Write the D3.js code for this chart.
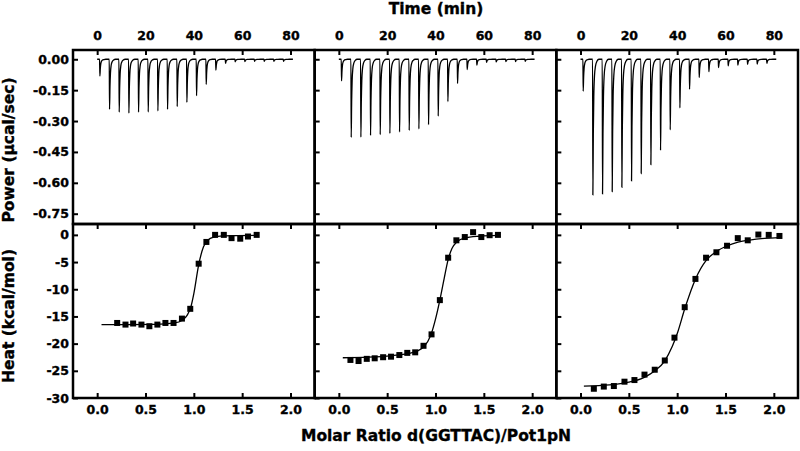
<!DOCTYPE html>
<html>
<head>
<meta charset="utf-8">
<script src="https://cdn.jsdelivr.net/npm/d3@7"></script>
<style>
  html, body { margin: 0; padding: 0; background: #fff; }
  svg { display: block; }
  text { font-family: "DejaVu Sans", sans-serif; font-weight: bold; fill: #000; stroke: #000; stroke-width: 0.35px; }
</style>
</head>
<body>
<svg id="chart" width="800" height="451"></svg>
<script>
// ---------------- data ----------------
const injectionTimes = [1, 5, 9, 13, 17, 21, 25, 29, 33, 37, 41, 45, 49, 53, 57, 61, 65, 69, 73, 77];
const peaks1 = [-0.081, -0.243, -0.257, -0.262, -0.257, -0.256, -0.251, -0.243, -0.23, -0.209, -0.177, -0.122, -0.053, -0.02, -0.012, -0.011, -0.01, -0.01, -0.01, -0.01];
const peaks2 = [-0.105, -0.379, -0.378, -0.37, -0.366, -0.36, -0.353, -0.345, -0.338, -0.317, -0.276, -0.205, -0.117, -0.05, -0.028, -0.015, -0.013, -0.011, -0.011, -0.01];
const peaks3 = [-0.155, -0.659, -0.654, -0.643, -0.622, -0.591, -0.555, -0.512, -0.442, -0.343, -0.236, -0.145, -0.088, -0.06, -0.04, -0.032, -0.028, -0.025, -0.024, -0.02];
// spike shape: [minutes after injection, fraction of peak]
const spikeProfile = [[0, 0], [0.12, 1], [0.3, 0.55], [0.5, 0.28], [0.8, 0.12], [1.2, 0.05], [1.8, 0.015], [2.6, 0]];
const traceStart = 0, traceEnd = 81;

const ratio1 = [0.207, 0.293, 0.372, 0.458, 0.54, 0.623, 0.706, 0.79, 0.877, 0.963, 1.05, 1.13, 1.22, 1.31, 1.39, 1.48, 1.56, 1.65];
const heat1  = [-16.2, -16.5, -16.3, -16.5, -16.8, -16.5, -16.2, -16.2, -15.4, -13.6, -5.3, -1.3, 0, 0, -0.6, -0.7, -0.3, 0];
const ratio2 = [0.12, 0.204, 0.289, 0.371, 0.458, 0.54, 0.626, 0.708, 0.79, 0.876, 0.959, 1.045, 1.131, 1.216, 1.303, 1.389, 1.474, 1.56, 1.646];
const heat2  = [-23.0, -23.2, -22.8, -22.7, -22.5, -22.4, -22.1, -21.7, -21.6, -20.4, -18.3, -12.0, -4.2, -1.0, -0.4, 0.5, -0.4, -0.06, 0];
const ratio3 = [0.138, 0.241, 0.345, 0.455, 0.558, 0.662, 0.768, 0.872, 0.972, 1.078, 1.189, 1.299, 1.406, 1.516, 1.627, 1.73, 1.84, 1.947, 2.058];
const heat3  = [-28.3, -27.9, -27.8, -27.0, -26.7, -25.7, -24.8, -23.1, -18.9, -13.3, -8.1, -4.2, -3.2, -2.0, -0.6, -1.0, 0.06, 0, -0.2];

const fit1 = [[0.045, -16.5], [0.3, -16.5], [0.6, -16.45], [0.8, -16.2], [0.88, -15.7], [0.93, -14.8], [0.97, -13.2], [1.0, -10.8], [1.05, -5.5], [1.1, -2.2], [1.15, -0.9], [1.2, -0.45], [1.3, -0.2], [1.66, -0.1]];
const fit2 = [[0.041, -22.6], [0.3, -22.5], [0.55, -22.2], [0.75, -21.7], [0.85, -21.0], [0.92, -19.6], [0.96, -18.0], [1.0, -15.5], [1.045, -12.0], [1.09, -8.0], [1.13, -4.6], [1.17, -2.5], [1.22, -1.3], [1.3, -0.6], [1.45, -0.25], [1.65, -0.1]];
const fit3 = [[0.035, -27.8], [0.3, -27.6], [0.5, -27.1], [0.66, -26.2], [0.77, -25.0], [0.87, -23.2], [0.95, -20.5], [1.0, -18.2], [1.08, -13.5], [1.19, -8.1], [1.3, -4.7], [1.41, -3.0], [1.52, -2.0], [1.63, -1.35], [1.75, -0.95], [1.9, -0.65], [2.06, -0.5]];

const timeTicks = [0, 20, 40, 60, 80];
const powerTicks = [0, -0.15, -0.3, -0.45, -0.6, -0.75];
const ratioTicks = [0, 0.5, 1.0, 1.5, 2.0];
const heatTicks = [0, -5, -10, -15, -20, -25, -30];

const titleTop = "Time (min)";
const titleBottom = "Molar Ratio d(GGTTAC)/Pot1pN";
const titlePower = "Power (µcal/sec)";
const titleHeat = "Heat (kcal/mol)";

// ---------------- layout ----------------
const padL = 73, padR = 798, yTop = 50, yMid = 224, yBot = 398;
const pw = (padR - padL) / 3;
const svg = d3.select("#chart");

const yPower = d3.scaleLinear().domain([-0.8, 0.045]).range([yMid, yTop]);
const yHeat = d3.scaleLinear().domain([-30, 2]).range([yBot, yMid]);

const panels = [
  {peaks: peaks1, ratio: ratio1, heat: heat1, fit: fit1},
  {peaks: peaks2, ratio: ratio2, heat: heat2, fit: fit2},
  {peaks: peaks3, ratio: ratio3, heat: heat3, fit: fit3}
];

function styleAxis(g, showLabels) {
  g.select(".domain").remove();
  g.selectAll(".tick line").attr("stroke", "#000").attr("stroke-width", 2);
  g.selectAll(".tick text").attr("font-size", 12.5).attr("font-family", "DejaVu Sans").attr("font-weight", "bold").attr("fill", "#000");
  if (!showLabels) g.selectAll(".tick text").remove();
}

panels.forEach((p, i) => {
  const x0 = padL + i * pw, x1 = x0 + pw;
  const xTime = d3.scaleLinear().domain([-10, 90]).range([x0, x1]);
  const xRatio = d3.scaleLinear().domain([-0.25, 2.25]).range([x0, x1]);

  // raw trace
  const pts = [[traceStart, 0]];
  injectionTimes.forEach((t, k) => {
    spikeProfile.forEach(([dt, f]) => pts.push([t + dt, p.peaks[k] * f]));
  });
  pts.push([traceEnd, 0]);
  svg.append("path")
    .attr("d", d3.line().x(d => xTime(d[0])).y(d => yPower(d[1])).curve(d3.curveMonotoneX)(pts))
    .attr("fill", "none").attr("stroke", "#000").attr("stroke-width", 1.3);

  // fit line
  svg.append("path")
    .attr("d", d3.line().x(d => xRatio(d[0])).y(d => yHeat(d[1])).curve(d3.curveMonotoneX)(p.fit))
    .attr("fill", "none").attr("stroke", "#000").attr("stroke-width", 1.3);

  // squares
  const s = 6;
  svg.append("g").selectAll("rect").data(p.ratio.map((r, k) => [r, p.heat[k]])).join("rect")
    .attr("x", d => xRatio(d[0]) - s / 2).attr("y", d => yHeat(d[1]) - s / 2)
    .attr("width", s).attr("height", s).attr("fill", "#000");

  // axes
  svg.append("g").attr("transform", `translate(0,${yTop})`)
    .call(d3.axisTop(xTime).tickValues(timeTicks).tickFormat(d3.format("d")).tickSize(-5).tickPadding(10.5))
    .call(g => styleAxis(g, true));
  svg.append("g").attr("transform", `translate(${x0},0)`)
    .call(d3.axisLeft(yPower).tickValues(powerTicks).tickFormat(d3.format(".2f")).tickSize(-5).tickPadding(4))
    .call(g => styleAxis(g, i === 0));
  svg.append("g").attr("transform", `translate(0,${yMid})`)
    .call(d3.axisTop(xRatio).tickValues(ratioTicks).tickSize(-5))
    .call(g => styleAxis(g, false));
  svg.append("g").attr("transform", `translate(0,${yBot})`)
    .call(d3.axisBottom(xRatio).tickValues(ratioTicks).tickFormat(d3.format(".1f")).tickSize(-5).tickPadding(7))
    .call(g => styleAxis(g, true));
  svg.append("g").attr("transform", `translate(${x0},0)`)
    .call(d3.axisLeft(yHeat).tickValues(heatTicks).tickFormat(d3.format("d")).tickSize(-5).tickPadding(4))
    .call(g => styleAxis(g, i === 0));

  // frames
  svg.append("rect").attr("x", x0).attr("y", yTop).attr("width", pw).attr("height", yMid - yTop)
    .attr("fill", "none").attr("stroke", "#000").attr("stroke-width", 2.5);
  svg.append("rect").attr("x", x0).attr("y", yMid).attr("width", pw).attr("height", yBot - yMid)
    .attr("fill", "none").attr("stroke", "#000").attr("stroke-width", 2.5);
});

// plain hyphen minus signs like the original
svg.selectAll(".tick text").each(function() {
  const t = d3.select(this); t.text(t.text().replace("\u2212", "-"));
});

// titles
svg.append("text").attr("x", 436).attr("y", 14).attr("text-anchor", "middle").attr("font-size", 15.5).text(titleTop);
svg.append("text").attr("x", 436).attr("y", 441).attr("text-anchor", "middle").attr("font-size", 15.5).text(titleBottom);
svg.append("text").attr("transform", "translate(14,150) rotate(-90)").attr("text-anchor", "middle").attr("font-size", 15.5).text(titlePower);
svg.append("text").attr("transform", "translate(14,316) rotate(-90)").attr("text-anchor", "middle").attr("font-size", 15.5).text(titleHeat);
</script>
</body>
</html>
